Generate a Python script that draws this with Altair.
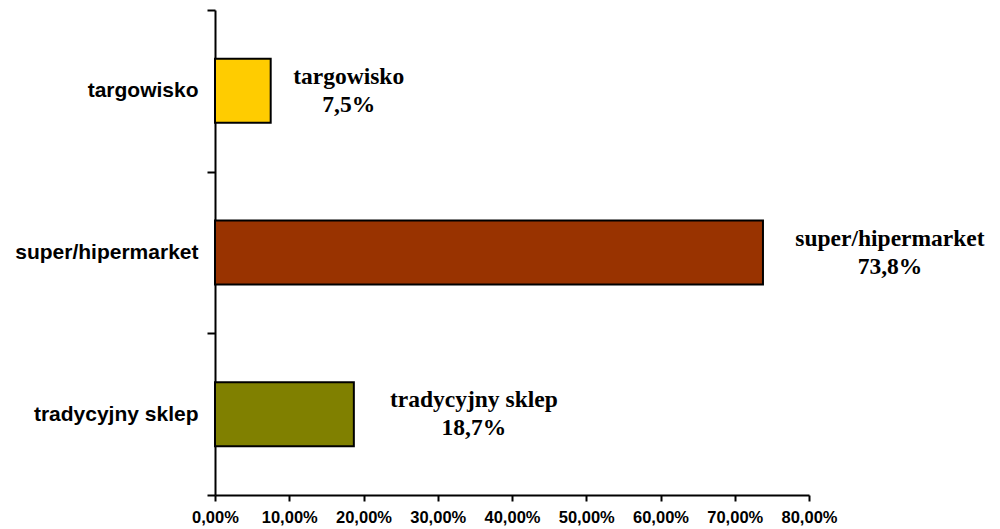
import altair as alt
import pandas as pd

categories = ["targowisko", "super/hipermarket", "tradycyjny sklep"]
values = [7.5, 73.8, 18.7]
colors = ["#FFCC00", "#993300", "#808000"]
x_ticks = [0, 10, 20, 30, 40, 50, 60, 70, 80]

df = pd.DataFrame({"cat": categories, "value": values})

x_scale = alt.Scale(domain=[0, 80], nice=False, zero=True)
y_scale = alt.Scale(domain=categories, paddingInner=0, paddingOuter=0)

bars = alt.Chart(df).mark_bar(size=64, stroke="black", strokeWidth=2).encode(
    x=alt.X(
        "value:Q",
        scale=x_scale,
        axis=alt.Axis(
            values=x_ticks,
            title=None,
            grid=False,
            labelExpr="replace(format(datum.value, '.2f'), '.', ',') + '%'",
            labelFont="Liberation Sans",
            labelFontWeight="bold",
            labelFontSize=16.5,
            labelColor="black",
            labelPadding=8,
            labelOverlap=False,
            labelFlush=False,
            labelLimit=0,
            tickSize=6,
            tickWidth=2,
            tickColor="black",
            domainColor="black",
            domainWidth=2,
        ),
    ),
    y=alt.Y(
        "cat:N",
        scale=y_scale,
        sort=categories,
        axis=alt.Axis(
            title=None,
            grid=False,
            tickBand="extent",
            labelFont="Liberation Sans",
            labelFontWeight="bold",
            labelFontSize=21,
            labelColor="black",
            labelPadding=9,
            labelLimit=0,
            tickSize=8,
            tickWidth=2,
            tickColor="black",
            domainColor="black",
            domainWidth=2,
        ),
    ),
    color=alt.Color("cat:N", scale=alt.Scale(domain=categories, range=colors), legend=None),
)

labels = alt.Chart(df).transform_calculate(
    lbl="[datum.cat, replace(format(datum.value, '.1f'), '.', ',') + '%']",
    lx="datum.value + (8 + 7 * length(datum.cat)) / 7.425",
).mark_text(
    align="center",
    baseline="middle",
    font="Liberation Serif",
    fontWeight="bold",
    fontSize=23.5,
    lineHeight=28,
    dy=-14,
    color="black",
).encode(
    x=alt.X("lx:Q", scale=x_scale),
    y=alt.Y("cat:N", scale=y_scale, sort=categories),
    text=alt.Text("lbl:N"),
)

chart = (
    alt.layer(bars, labels)
    .properties(
        width=594,
        height=485,
        autosize=alt.AutoSizeParams(type="none"),
        padding={"left": 215, "top": 10, "right": 191, "bottom": 34},
        background="white",
    )
    .configure_view(stroke=None)
)

chart.save("out.html", embed_options={"renderer": "svg", "actions": False})
